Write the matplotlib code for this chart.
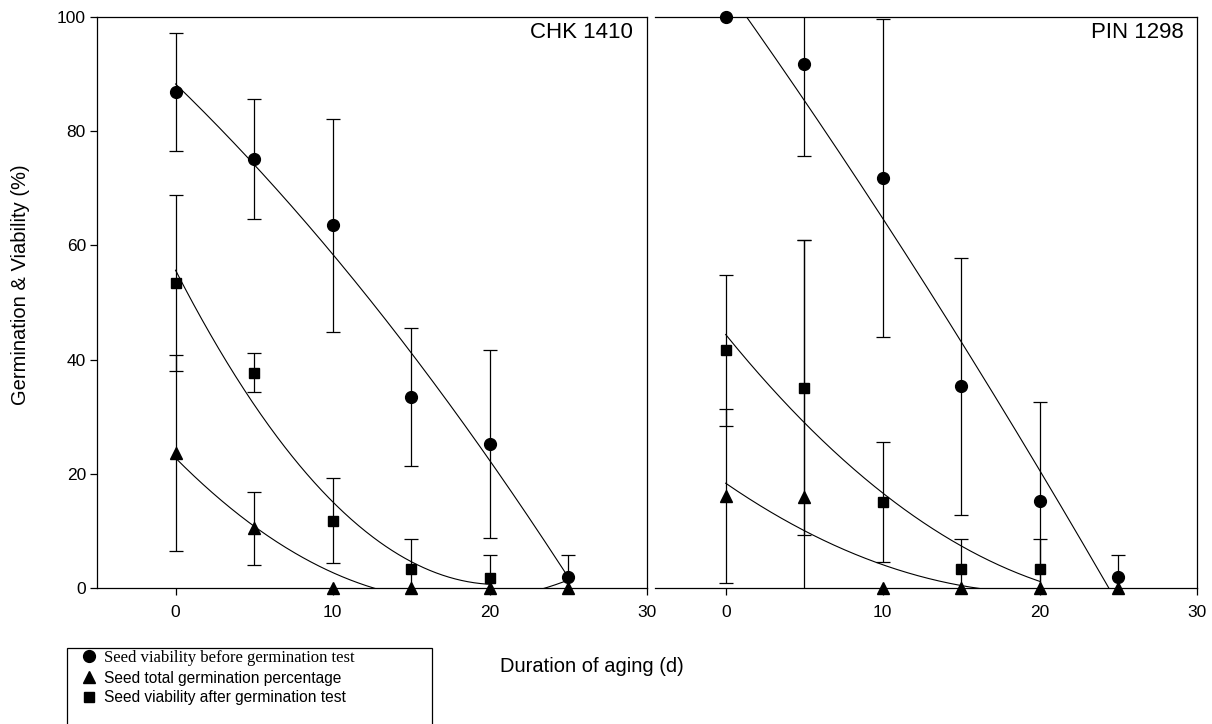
import numpy as np
import matplotlib
matplotlib.use("Agg")
import matplotlib.pyplot as plt
from matplotlib.lines import Line2D
from matplotlib.patches import Rectangle

plt.rcParams['font.family'] = ['Liberation Sans', 'DejaVu Sans']

# Days of accelerated aging
days = [0, 5, 10, 15, 20, 25]

# CHK 1410
chk_before = [86.9, 75.2, 63.5, 33.5, 25.2, 1.9]
chk_before_err = [10.3, 10.5, 18.7, 12.1, 16.4, 3.9]
chk_germ = [23.6, 10.5, 0, 0, 0, 0]
chk_germ_err = [17.2, 6.4, 0, 0, 0, 0]
chk_after = [53.4, 37.7, 11.8, 3.4, 1.8]
chk_after_err = [15.4, 3.4, 7.5, 5.2, 4.0]

# PIN 1298
pin_before = [100, 91.8, 71.8, 35.3, 15.2, 1.9]
pin_before_err = [0, 16.1, 27.8, 22.5, 17.4, 3.9]
pin_germ = [16.1, 15.9, 0, 0, 0, 0]
pin_germ_err = [15.3, 45.0, 0, 0, 0, 0]
pin_after = [41.6, 35.1, 15.0, 3.4, 3.4]
pin_after_err = [13.3, 25.8, 10.5, 5.2, 5.2]

# number of points used for each quadratic regression
fit_n = {"chk": (6, 6, 5), "pin": (6, 5, 5)}

legend_labels = ["Seed viability before germination test",
                 "Seed total germination percentage",
                 "Seed viability after germination test"]
markers = ["o", "^", "s"]
msizes = [8.5, 8.5, 7.5]

W, H = 1212, 724
fig = plt.figure(figsize=(W / 100, H / 100), dpi=100)
top, bot = 17, 588
ax1 = fig.add_axes([97 / W, 1 - bot / H, 550 / W, (bot - top) / H])
ax2 = fig.add_axes([655 / W, 1 - bot / H, 542 / W, (bot - top) / H])


def draw_panel(ax, series, errs, nfit, title):
    for vals, err, mk, ms, n in zip(series, errs, markers, msizes, nfit):
        x = np.array(days[:len(vals)], dtype=float)
        y = np.array(vals, dtype=float)
        e = np.array(err, dtype=float)
        # regression line
        coef = np.polyfit(x[:n], y[:n], 2)
        xs = np.linspace(x[0], x[n - 1], 300)
        ax.plot(xs, np.polyval(coef, xs), color="black", lw=0.8, zorder=2)
        # error bars
        m = e > 0
        ax.errorbar(x[m], y[m], yerr=e[m], fmt="none", ecolor="black",
                    elinewidth=0.9, capsize=4.8, capthick=0.9, zorder=2)
        ax.plot(x, y, ls="none", marker=mk, ms=ms, color="black",
                clip_on=False, zorder=3)
    ax.set_ylim(0, 100)
    ax.set_xticks([0, 10, 20, 30])
    ax.tick_params(direction="out", length=5, width=0.9, labelsize=12.5)
    ax.tick_params(axis="x", pad=7)
    ax.tick_params(axis="y", pad=3)
    for s in ax.spines.values():
        s.set_linewidth(0.9)
    ax.text(0.975, 0.992, title, transform=ax.transAxes, ha="right",
            va="top", fontsize=16)


draw_panel(ax1, [chk_before, chk_germ, chk_after],
           [chk_before_err, chk_germ_err, chk_after_err], fit_n["chk"],
           "CHK 1410")
ax1.set_xlim(-5, 30)
ax1.set_yticks([0, 20, 40, 60, 80, 100])

draw_panel(ax2, [pin_before, pin_germ, pin_after],
           [pin_before_err, pin_germ_err, pin_after_err], fit_n["pin"],
           "PIN 1298")
ax2.set_xlim(-4.5, 30)
ax2.spines["left"].set_visible(False)
ax2.set_yticks([])

fig.text(21 / W, 1 - 285 / H, "Germination & Viability (%)", rotation=90,
         ha="center", va="center", fontsize=14.5)
fig.text(592 / W, 1 - 667 / H, "Duration of aging (d)", ha="center",
         va="center", fontsize=14.5)

# legend box (bottom edge falls outside the figure)
fig.patches.append(Rectangle((67 / W, -0.05), (432 - 67) / W,
                             1 - 648 / H + 0.05, transform=fig.transFigure,
                             fill=False, edgecolor="black", lw=0.9))
handles = [Line2D([], [], ls="none", marker=mk, ms=ms, color="black")
           for mk, ms in zip(markers, msizes)]
leg = fig.legend(handles, legend_labels, loc="upper left",
                 bbox_to_anchor=(70 / W, 1 - 639 / H), frameon=False,
                 fontsize=11.2, handlelength=1.0, handletextpad=0.5,
                 labelspacing=0.3, borderpad=0.2)
leg.get_texts()[0].set_family("Liberation Serif")
leg.get_texts()[0].set_fontsize(12)

plt.savefig("out.png", dpi=100)
